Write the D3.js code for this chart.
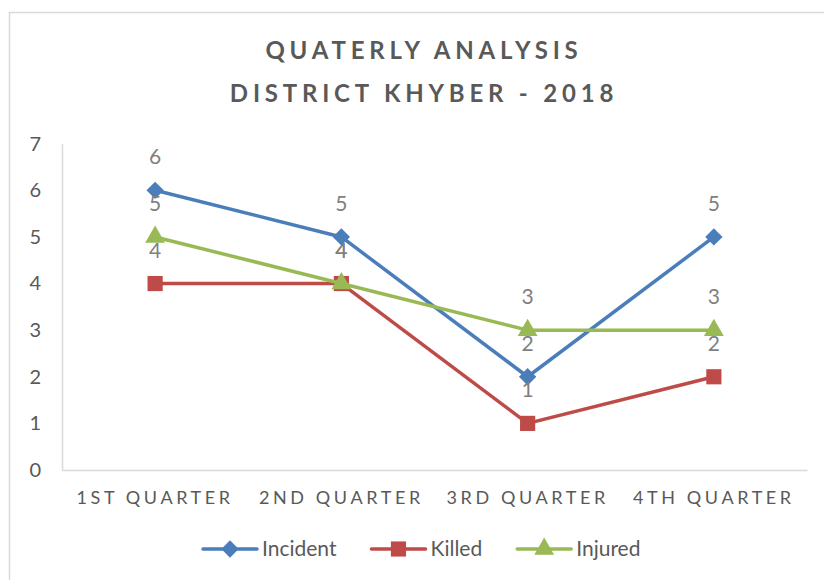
<!DOCTYPE html>
<html>
<head>
<meta charset="utf-8">
<script src="https://cdn.jsdelivr.net/npm/d3@7"></script>
<style>
  body { margin: 0; background: #fff; }
  text { font-family: Lato, "Open Sans", sans-serif; }
</style>
</head>
<body>
<svg width="824" height="580"></svg>
<script>
// quarterly figures, district khyber 2018
var quarters = ["1ST QUARTER", "2ND QUARTER", "3RD QUARTER", "4TH QUARTER"];
var incident = [6, 5, 2, 5];
var killed = [4, 4, 1, 2];
var injured = [5, 4, 3, 3];
var seriesNames = ["Incident", "Killed", "Injured"];
var yTicks = [0, 1, 2, 3, 4, 5, 6, 7];
var titleLines = ["QUATERLY ANALYSIS", "DISTRICT KHYBER - 2018"];

var colors = ["#4a7ebb", "#be4b48", "#98b954"];
var shapes = [d3.symbolSquare, d3.symbolSquare, d3.symbolTriangle];
var symSizes = [150, 230, 170];
var rotations = [45, 0, 0];

var svg = d3.select("svg");

// chart frame (cut by the picture on right and bottom)
svg.append("rect")
    .attr("x", 9.5).attr("y", 12.5)
    .attr("width", 840).attr("height", 600)
    .attr("fill", "#fff")
    .attr("stroke", "#d9d9d9")
    .attr("stroke-width", 1.5);

var title = svg.append("text")
    .attr("text-anchor", "middle")
    .attr("fill", "#595959")
    .style("font-size", "24px")
    .style("font-weight", "bold")
    .style("letter-spacing", "4.8px");
title.selectAll("tspan")
    .data(titleLines)
  .enter().append("tspan")
    .attr("x", 424)
    .attr("y", function(d, i) { return 59 + i * 43; })
    .text(function(d) { return d; });

var x = d3.scaleBand().domain(quarters).range([62, 807]);
var y = d3.scaleLinear().domain([0, 7]).range([470, 143.7]);
function cx(d) { return x(d) + x.bandwidth() / 2; }

// axes
var yAxis = svg.append("g")
    .attr("transform", "translate(62,0)")
    .call(d3.axisLeft(y).tickValues(yTicks).tickFormat(d3.format("d")).tickSize(0).tickPadding(21));
yAxis.select(".domain").attr("stroke", "#d9d9d9").attr("stroke-width", 1.5);
yAxis.selectAll("text")
    .attr("fill", "#595959")
    .style("font-size", "20px")
    .style("font-family", "Lato, 'Open Sans', sans-serif");

var xAxis = svg.append("g")
    .attr("transform", "translate(0,470)")
    .call(d3.axisBottom(x).tickSize(0).tickPadding(21));
xAxis.select(".domain").attr("stroke", "#d9d9d9").attr("stroke-width", 1.5);
xAxis.selectAll("text")
    .attr("fill", "#595959")
    .style("font-size", "18px")
    .style("letter-spacing", "3.6px")
    .style("font-family", "Lato, 'Open Sans', sans-serif");

var series = [incident, killed, injured].map(function(vals, i) {
  return {
    name: seriesNames[i],
    color: colors[i],
    shape: shapes[i],
    size: symSizes[i],
    rot: rotations[i],
    points: vals.map(function(v, j) { return { q: quarters[j], v: v }; })
  };
});

var line = d3.line()
    .x(function(d) { return cx(d.q); })
    .y(function(d) { return y(d.v); });

var sg = svg.selectAll(".series")
    .data(series)
  .enter().append("g")
    .attr("class", "series");

sg.append("path")
    .attr("d", function(d) { return line(d.points); })
    .attr("fill", "none")
    .attr("stroke", function(d) { return d.color; })
    .attr("stroke-width", 3.5)
    .attr("stroke-linejoin", "round");

sg.each(function(s) {
  d3.select(this).selectAll(".mark")
      .data(s.points)
    .enter().append("path")
      .attr("class", "mark")
      .attr("transform", function(d) { return "translate(" + cx(d.q) + "," + y(d.v) + ") rotate(" + s.rot + ")"; })
      .attr("d", d3.symbol().type(s.shape).size(s.size))
      .attr("fill", s.color);
});

// data labels on top of everything
sg.each(function(s) {
  svg.append("g").selectAll("text")
      .data(s.points)
    .enter().append("text")
      .attr("x", function(d) { return cx(d.q); })
      .attr("y", function(d) { return y(d.v) - 26; })
      .attr("text-anchor", "middle")
      .attr("fill", "#7f7f7f")
      .style("font-size", "21px")
      .text(function(d) { return d.v; });
});

// legend
var legend = svg.append("g").attr("transform", "translate(0,549)");
var lx = 203;
series.forEach(function(s) {
  var item = legend.append("g").attr("transform", "translate(" + lx + ",0)");
  item.append("line")
      .attr("x1", 0).attr("x2", 54)
      .attr("stroke", s.color).attr("stroke-width", 3.5)
      .attr("stroke-linecap", "round");
  item.append("path")
      .attr("transform", "translate(27,0) rotate(" + s.rot + ")")
      .attr("d", d3.symbol().type(s.shape).size(s.size))
      .attr("fill", s.color);
  var t = item.append("text")
      .attr("x", 59).attr("dy", "0.35em")
      .attr("fill", "#595959")
      .style("font-size", "21px")
      .text(s.name);
  lx += 59 + t.node().getComputedTextLength() + 35;
});
</script>
</body>
</html>
